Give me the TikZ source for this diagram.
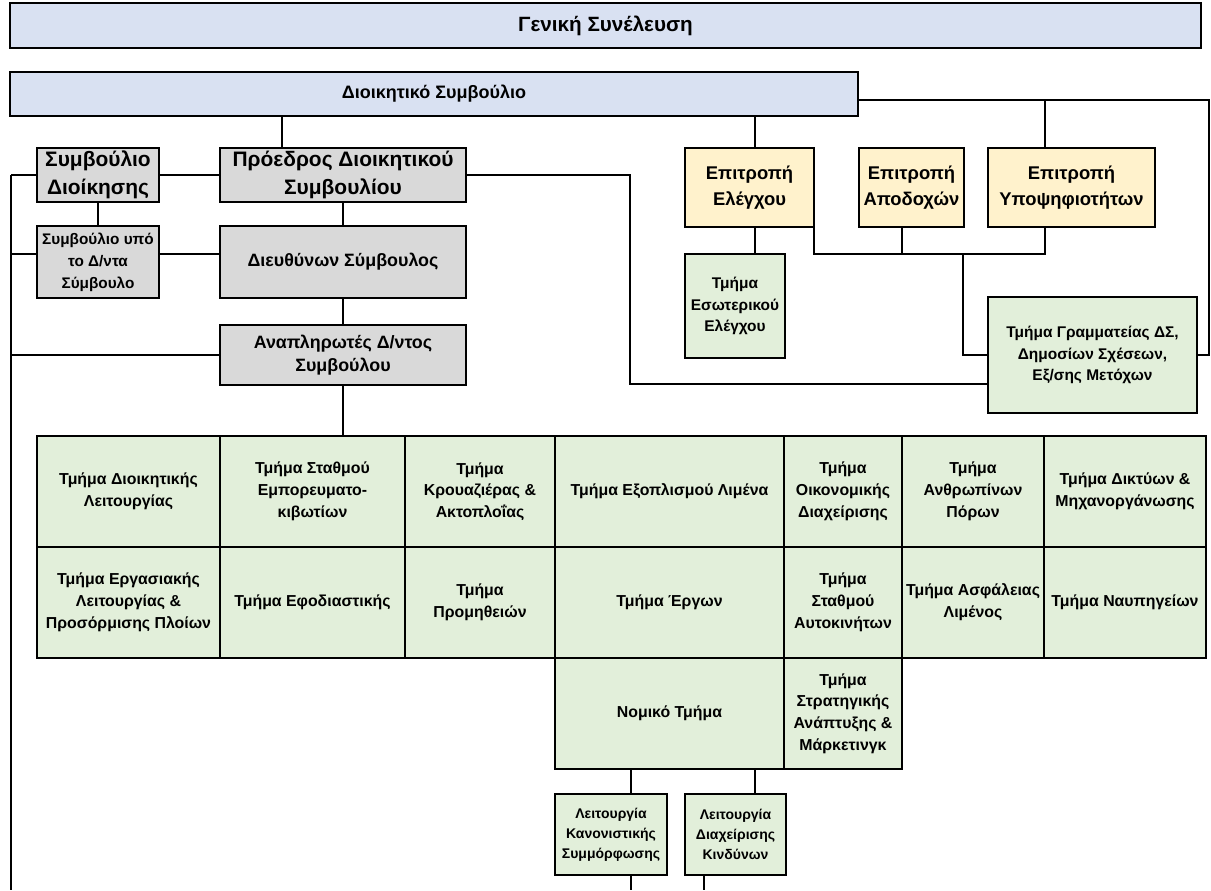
\documentclass[tikz,border=0pt]{standalone}
\usepackage{fontspec}
\setmainfont{Liberation Sans}
\definecolor{blueF}{HTML}{D9E1F2}
\definecolor{grayF}{HTML}{D9D9D9}
\definecolor{yelF}{HTML}{FFF2CC}
\definecolor{grnF}{HTML}{E2EFDA}
\newcommand\bx[7]{\node[#6, minimum width={(#4-#2)*0.75pt}, minimum height={(#5-#3)*0.75pt}, anchor=north west] (#1) at (#2,#3) {#7};}
\tikzset{
  box/.style={draw, line width=0.9pt, inner sep=1pt, outer sep=0pt, align=center},
  bluebox/.style={box, fill=blueF, font=\bfseries\fontsize{13.5}{16}\selectfont},
  topbox/.style={box, fill=blueF, font=\bfseries\fontsize{15.5}{18}\selectfont},
  bigbox/.style={box, fill=grayF, font=\bfseries\fontsize{15.7}{21}\selectfont},
  graybox/.style={box, fill=grayF, font=\bfseries\fontsize{13.4}{17.5}\selectfont},
  smallgray/.style={box, fill=grayF, font=\bfseries\fontsize{11.5}{16.5}\selectfont},
  yelbox/.style={box, fill=yelF, font=\bfseries\fontsize{13.8}{19.3}\selectfont},
  grnbox/.style={box, fill=grnF, font=\bfseries\fontsize{11.6}{16.3}\selectfont},
  cell/.style={box, fill=grnF, font=\bfseries\fontsize{11.9}{16.3}\selectfont},
  kbox/.style={box, fill=grnF, font=\bfseries\fontsize{10.5}{15}\selectfont},
  conn/.style={line width=0.9pt},
  heavy/.style={line width=1.8pt}
}
\begin{document}
\begin{tikzpicture}[x=0.75pt, y=-0.75pt]
\useasboundingbox (0,0) rectangle (1211,890);
% top
\bx{ge}{10}{3}{1201}{48}{topbox}{Γενική Συνέλευση}
\bx{ds}{10}{72}{858}{116}{bluebox}{Διοικητικό Συμβούλιο}
% left column
\bx{sd}{37}{148}{159}{202}{bigbox}{Συμβούλιο\\Διοίκησης}
\bx{pr}{220}{148}{466}{202}{bigbox}{Πρόεδρος Διοικητικού\\Συμβουλίου}
\bx{su}{37}{226}{159}{298}{smallgray}{Συμβούλιο υπό\\το Δ/ντα\\Σύμβουλο}
\bx{dc}{220}{226}{466}{298}{graybox}{Διευθύνων Σύμβουλος}
\bx{an}{220}{325}{466}{385}{graybox}{Αναπληρωτές Δ/ντος\\Συμβούλου}
% committees
\bx{ea}{685}{148}{814}{227}{yelbox}{Επιτροπή\\Ελέγχου}
\bx{eb}{859}{148}{964}{227}{yelbox}{Επιτροπή\\Αποδοχών}
\bx{ec}{988}{148}{1155}{227}{yelbox}{Επιτροπή\\Υποψηφιοτήτων}
\bx{ie}{685}{254}{785}{358}{grnbox}{Τμήμα\\Εσωτερικού\\Ελέγχου}
\bx{gr}{988}{297}{1197}{413}{grnbox}{Τμήμα Γραμματείας ΔΣ,\\Δημοσίων Σχέσεων,\\Εξ/σης Μετόχων}
% grid row 1
\bx{c11}{37}{436}{220}{547}{cell}{Τμήμα Διοικητικής\\Λειτουργίας}
\bx{c12}{220}{436}{405}{547}{cell}{Τμήμα Σταθμού\\Εμπορευματο-\\κιβωτίων}
\bx{c13}{405}{436}{555}{547}{cell}{Τμήμα\\Κρουαζιέρας \&\\Ακτοπλοΐας}
\bx{c14}{555}{436}{784}{547}{cell}{Τμήμα Εξοπλισμού Λιμένα}
\bx{c15}{784}{436}{902}{547}{cell}{Τμήμα\\Οικονομικής\\Διαχείρισης}
\bx{c16}{902}{436}{1044}{547}{cell}{Τμήμα\\Ανθρωπίνων\\Πόρων}
\bx{c17}{1044}{436}{1206}{547}{cell}{Τμήμα Δικτύων \&\\Μηχανοργάνωσης}
% grid row 2
\bx{c21}{37}{547}{220}{658}{cell}{Τμήμα Εργασιακής\\Λειτουργίας \&\\Προσόρμισης Πλοίων}
\bx{c22}{220}{547}{405}{658}{cell}{Τμήμα Εφοδιαστικής}
\bx{c23}{405}{547}{555}{658}{cell}{Τμήμα\\Προμηθειών}
\bx{c24}{555}{547}{784}{658}{cell}{Τμήμα Έργων}
\bx{c25}{784}{547}{902}{658}{cell}{Τμήμα\\Σταθμού\\Αυτοκινήτων}
\bx{c26}{902}{547}{1044}{658}{cell}{Τμήμα Ασφάλειας\\Λιμένος}
\bx{c27}{1044}{547}{1206}{658}{cell}{Τμήμα Ναυπηγείων}
% grid row 3
\bx{c34}{555}{658}{784}{769}{cell}{Νομικό Τμήμα}
\bx{c35}{784}{658}{902}{769}{cell}{Τμήμα\\Στρατηγικής\\Ανάπτυξης \&\\Μάρκετινγκ}
% functions
\bx{ka}{555}{794}{667}{875}{kbox}{Λειτουργία\\Κανονιστικής\\Συμμόρφωσης}
\bx{kb}{685}{794}{786}{875}{kbox}{Λειτουργία\\Διαχείρισης\\Κινδύνων}
% heavy edges (shadows)
\draw[heavy] (ds.north west) -- (ds.north east);
\draw[heavy] (gr.north west) -- (gr.north east);
\foreach \n in {sd,pr,su,dc,ea,eb,ec,ie,ka,kb}
  \draw[heavy] (\n.south west) -- (\n.south east);
\draw[line width=1.3pt] (c11.south west) -- (c17.south east);
\draw[line width=1.3pt] (c21.south west) -- (c24.south west);
\draw[line width=1.3pt] (c34.north west) -- (c27.south east);
% free ends
\coordinate (ltop) at (11,175);
\coordinate (lbot) at (11,890);
\coordinate (rtop) at (1209,100);
\coordinate (jl) at (814,254);
\coordinate (jr) at (1045,254);
\coordinate (kab) at (631,890);
\coordinate (kbb) at (704,890);
% connectors
\draw[conn] (ltop) -- (lbot);
\draw[conn] (sd.west) -- (sd.west -| ltop);
\draw[conn] (su.west |- 0,254) -- (11,254);
\draw[conn] (su.east |- 0,254) -- (dc.west |- 0,254);
\draw[conn] (an.west) -- (an.west -| ltop);
\draw[conn] (sd.east) -- (pr.west);
\draw[conn] (ds.south -| 282,0) -- (pr.north -| 282,0);
\draw[conn] (sd.south) -- (su.north);
\draw[conn] (pr.south) -- (dc.north);
\draw[conn] (dc.south) -- (an.north);
\draw[conn] (an.south) -- (an.south |- c12.north);
\draw[conn] (pr.east) -| (630,384) -- (gr.west |- 0,384);
\draw[conn] (ds.south -| 755,0) -- (ea.north -| 755,0);
\draw[conn] (ds.east |- rtop) -- (rtop) |- (gr.east);
\draw[conn] (1045,100) -- (ec.north -| 1045,0);
\draw[conn] (ea.south -| 755,0) -- (ie.north -| 755,0);
\draw[conn] (ea.south east) -- (jl) -- (jr) -- (ec.south -| jr);
\draw[conn] (eb.south -| 902,0) -- (902,254);
\draw[conn] (963,254) |- (gr.west);
\draw[conn] (c34.south -| 631,0) -- (ka.north -| 631,0);
\draw[conn] (c34.south -| 755,0) -- (kb.north -| 755,0);
\draw[conn] (ka.south -| kab) -- (kab);
\draw[conn] (kb.south -| kbb) -- (kbb);
\end{tikzpicture}
\end{document}
